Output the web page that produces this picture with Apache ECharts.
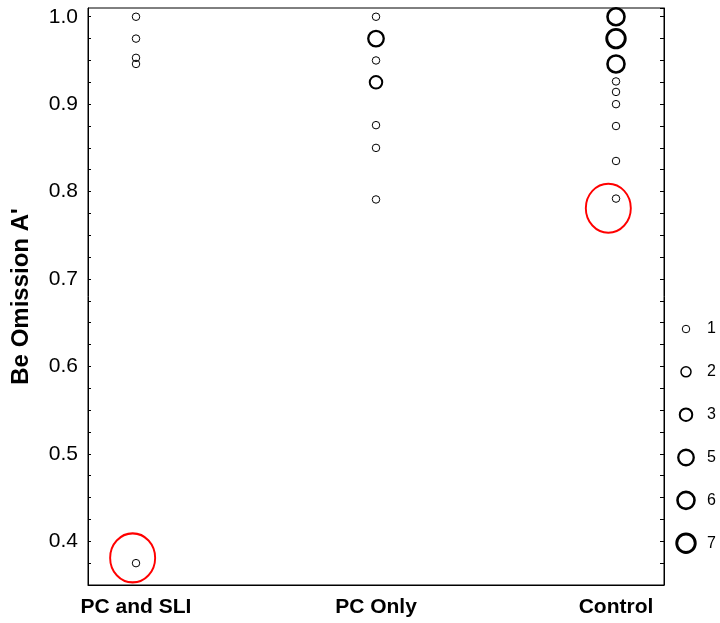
<!DOCTYPE html>
<html>
<head>
<meta charset="utf-8">
<script src="https://cdn.jsdelivr.net/npm/echarts@6/dist/echarts.min.js"></script>
<style>
html,body{margin:0;padding:0;background:#fff;}
#chart{width:720px;height:623px;}
</style>
</head>
<body>
<div id="chart"></div>
<script>
// ---- data ----
var categories = ['PC and SLI', 'PC Only', 'Control'];
var pcSliValues = [1.0, 0.975, 0.953, 0.946, 0.375];
var pcSliCounts = [1, 1, 1, 1, 1];
var pcOnlyValues = [1.0, 0.975, 0.95, 0.925, 0.876, 0.850, 0.791];
var pcOnlyCounts = [1, 5, 1, 3, 1, 1, 1];
var controlValues = [1.0, 0.975, 0.946, 0.926, 0.914, 0.900, 0.875, 0.835, 0.792];
var controlCounts = [6, 7, 6, 1, 1, 1, 1, 1, 1];
var legendCounts = [1, 2, 3, 5, 6, 7];
var highlightX = [-0.014, 1.968];
var highlightY = [0.381, 0.781];
var yTickLabels = ['0.4', '0.5', '0.6', '0.7', '0.8', '0.9', '1.0'];

// ---- styles ----
var FONT = 'Liberation Sans, Arial, sans-serif';
var sizeMap = {1: 7.5, 2: 10, 3: 12.5, 5: 15.5, 6: 17, 7: 18.5};
var widthMap = {1: 1, 2: 1.5, 3: 2, 5: 2.3, 6: 2.6, 7: 2.9};

function buildPoints(catIndex, values, counts) {
  return values.map(function (v, i) {
    var c = counts[i];
    return {
      value: [catIndex, v, c],
      symbolSize: sizeMap[c],
      itemStyle: {borderWidth: widthMap[c]}
    };
  });
}

var groups = [
  buildPoints(0, pcSliValues, pcSliCounts),
  buildPoints(1, pcOnlyValues, pcOnlyCounts),
  buildPoints(2, controlValues, controlCounts)
];

var legendPoints = legendCounts.map(function (c, i) {
  return {value: [0, i], symbolSize: sizeMap[c], itemStyle: {borderWidth: widthMap[c]}};
});

var highlightPoints = highlightX.map(function (x, i) { return [x, highlightY[i]]; });

var chart = echarts.init(document.getElementById('chart'), null, {renderer: 'canvas'});

var pointStyle = {color: 'rgba(0,0,0,0)', borderColor: '#000', opacity: 1};

var option = {
  animation: false,
  backgroundColor: '#fff',
  textStyle: {fontFamily: FONT},
  grid: [
    {left: 88, right: 56, top: 8, bottom: 38, show: true, borderColor: '#000', borderWidth: 1, backgroundColor: 'transparent'},
    {left: 676, width: 20, top: 307.6, bottom: 58.4}
  ],
  xAxis: [
    {
      gridIndex: 0, type: 'value', min: -0.2, max: 2.2,
      splitLine: {show: false},
      axisLine: {show: true, onZero: false, lineStyle: {color: '#000', width: 1}},
      axisTick: {show: false},
      axisLabel: {
        customValues: [0, 1, 2],
        formatter: function (v) { return categories[Math.round(v)]; },
        fontFamily: FONT, fontSize: 21, fontWeight: 'bold', color: '#000', margin: 12
      }
    },
    {gridIndex: 1, type: 'value', min: -1, max: 1, show: false}
  ],
  yAxis: [
    {
      gridIndex: 0, type: 'value', min: 0.35, max: 1.01, interval: 0.025,
      name: "Be Omission A'", nameLocation: 'middle', nameGap: 55, nameRotate: 90,
      nameTextStyle: {fontFamily: FONT, fontSize: 24, fontWeight: 'bold', color: '#000'},
      splitLine: {show: false},
      axisLine: {show: true, onZero: false, lineStyle: {color: '#000', width: 1}},
      axisTick: {show: true, inside: true, length: 3, lineStyle: {color: '#000'}},
      axisLabel: {
        fontFamily: FONT, fontSize: 21, color: '#000', margin: 10,
        showMinLabel: false, showMaxLabel: false,
        formatter: function (v) {
          var t = (Math.round(v * 1000) / 1000).toFixed(1);
          return (yTickLabels.indexOf(t) >= 0 && Math.abs(v * 10 - Math.round(v * 10)) < 1e-6) ? t : '';
        }
      }
    },
    {
      gridIndex: 0, type: 'value', min: 0.35, max: 1.01, interval: 0.025, position: 'right',
      splitLine: {show: false},
      axisLine: {show: true, onZero: false, lineStyle: {color: '#000', width: 1}},
      axisTick: {show: true, inside: true, length: 4, lineStyle: {color: '#000'}},
      axisLabel: {show: false}
    },
    {
      gridIndex: 1, type: 'category', data: legendCounts.map(String), inverse: true, position: 'right',
      axisLine: {show: false}, axisTick: {show: false}, splitLine: {show: false},
      axisLabel: {fontFamily: FONT, fontSize: 16, color: '#000', margin: 11, align: 'left'}
    }
  ],
  series: [
    {type: 'scatter', xAxisIndex: 0, yAxisIndex: 0, symbol: 'circle', data: groups[0], itemStyle: pointStyle, z: 3},
    {type: 'scatter', xAxisIndex: 0, yAxisIndex: 0, symbol: 'circle', data: groups[1], itemStyle: pointStyle, z: 3},
    {type: 'scatter', xAxisIndex: 0, yAxisIndex: 0, symbol: 'circle', data: groups[2], itemStyle: pointStyle, z: 3},
    {type: 'scatter', xAxisIndex: 0, yAxisIndex: 0, symbol: 'circle', symbolSize: [45, 49],
      data: highlightPoints, itemStyle: {color: 'rgba(0,0,0,0)', borderColor: '#ff0000', borderWidth: 2, opacity: 1}, z: 4},
    {type: 'scatter', xAxisIndex: 1, yAxisIndex: 2, symbol: 'circle', data: legendPoints, itemStyle: pointStyle, z: 3}
  ]
};
chart.setOption(option);
</script>
</body>
</html>
